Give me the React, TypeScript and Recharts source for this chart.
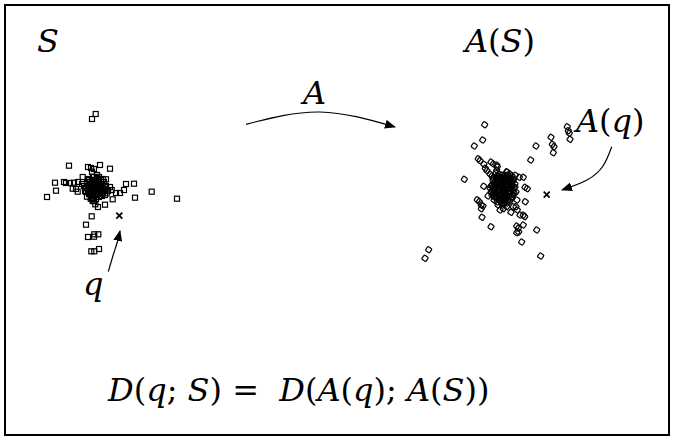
import React from "react";
import { ScatterChart, Scatter, XAxis, YAxis } from "recharts";

// point clouds, in picture units (x right, y down)
const cloudS = [
  { x: 95.7, y: 114 }, { x: 92, y: 119 }, { x: 69, y: 165.7 }, { x: 100, y: 165 },
  { x: 88, y: 167 }, { x: 91, y: 168 }, { x: 94, y: 169 }, { x: 110, y: 168.7 },
  { x: 92, y: 171.7 }, { x: 55, y: 182.7 }, { x: 64, y: 182 }, { x: 66, y: 183 },
  { x: 70, y: 183 }, { x: 74, y: 182.7 }, { x: 78, y: 182 }, { x: 82.7, y: 177 },
  { x: 56, y: 190.7 }, { x: 47, y: 197 }, { x: 72.7, y: 188.7 }, { x: 76, y: 189 },
  { x: 77.7, y: 191.7 }, { x: 126, y: 184 }, { x: 134, y: 183.7 }, { x: 120, y: 193 },
  { x: 116, y: 193 }, { x: 124, y: 190 }, { x: 151.7, y: 191.7 }, { x: 177, y: 198.7 },
  { x: 135, y: 197.7 }, { x: 112.7, y: 199.3 }, { x: 110, y: 187 }, { x: 111.7, y: 190 },
  { x: 106, y: 179.3 }, { x: 106.7, y: 193.3 }, { x: 101.7, y: 193.7 }, { x: 105, y: 204.7 },
  { x: 98, y: 207 }, { x: 95.3, y: 204.3 }, { x: 92.7, y: 201 }, { x: 87, y: 196.7 },
  { x: 90.7, y: 198.7 }, { x: 91.7, y: 216.3 }, { x: 86, y: 224.7 }, { x: 88, y: 237 },
  { x: 94, y: 236.7 }, { x: 98.3, y: 234.3 }, { x: 94.3, y: 234.3 }, { x: 91.3, y: 251.3 },
  { x: 94.3, y: 251.3 }, { x: 99, y: 249 },
  // dense core
  { x: 95, y: 187 }, { x: 93, y: 185 }, { x: 97, y: 189 }, { x: 91, y: 188 },
  { x: 99, y: 186 }, { x: 94, y: 190 }, { x: 96, y: 183 }, { x: 89, y: 186 },
  { x: 101, y: 188 }, { x: 92, y: 192 }, { x: 98, y: 193 }, { x: 95, y: 180 },
  { x: 88, y: 190 }, { x: 102, y: 184 }, { x: 90, y: 182 }, { x: 100, y: 191 },
  { x: 94, y: 195 }, { x: 97, y: 178 }, { x: 86, y: 188 }, { x: 104, y: 189 },
  { x: 91, y: 196 }, { x: 99, y: 197 }, { x: 93, y: 177 }, { x: 87, y: 184 },
  { x: 103, y: 193 }, { x: 96, y: 199 }, { x: 84, y: 186 }, { x: 106, y: 186 },
  { x: 89, y: 194 }, { x: 101, y: 180 }, { x: 92, y: 180 }, { x: 98, y: 182 },
  { x: 85, y: 191 }, { x: 105, y: 195 }, { x: 95, y: 192 }, { x: 90, y: 189 },
  { x: 100, y: 184 }, { x: 93, y: 198 }, { x: 97, y: 175 }, { x: 88, y: 179 },
  { x: 103, y: 179 }, { x: 94, y: 201 }, { x: 82, y: 184 }, { x: 108, y: 191 },
  { x: 96, y: 186 }, { x: 92, y: 187 }, { x: 98, y: 190 }, { x: 91, y: 184 },
  { x: 94, y: 186 }, { x: 96, y: 188 }, { x: 93, y: 189 }, { x: 97, y: 185 },
  { x: 95, y: 184 }, { x: 95, y: 190 }, { x: 92, y: 183 }, { x: 98, y: 187 },
  { x: 90, y: 185 }, { x: 100, y: 189 }, { x: 93, y: 193 }, { x: 97, y: 192 },
  { x: 89, y: 191 }, { x: 101, y: 185 }, { x: 96, y: 181 }, { x: 94, y: 180 },
  { x: 91, y: 190 }, { x: 99, y: 183 }, { x: 102, y: 190 }, { x: 88, y: 187 },
  { x: 96, y: 195 }, { x: 92, y: 195 }, { x: 98, y: 179 }, { x: 90, y: 193 },
  { x: 103, y: 186 }, { x: 87, y: 182 }, { x: 100, y: 194 }, { x: 94, y: 177 },
  { x: 86, y: 192 }, { x: 104, y: 182 }, { x: 89, y: 180 }, { x: 102, y: 196 },
  { x: 99, y: 177 }, { x: 85, y: 188 }, { x: 105, y: 191 }, { x: 92, y: 199 },
];

const cloudAS = [
  { x: 484.7, y: 124.7 }, { x: 474.3, y: 146 }, { x: 482.7, y: 140 }, { x: 536, y: 146 },
  { x: 551, y: 137.3 }, { x: 552.3, y: 144.3 }, { x: 554, y: 146.7 }, { x: 553.3, y: 152.7 },
  { x: 567.3, y: 126.7 }, { x: 568.3, y: 130.7 }, { x: 569.3, y: 133.3 }, { x: 570, y: 139.3 },
  { x: 530.7, y: 160 }, { x: 478.3, y: 158.7 }, { x: 480, y: 160.7 }, { x: 491, y: 162 },
  { x: 493.3, y: 164 }, { x: 496.7, y: 165 }, { x: 484, y: 164.3 }, { x: 485.3, y: 168.3 },
  { x: 487, y: 170.7 }, { x: 490, y: 174 }, { x: 496.7, y: 170 }, { x: 497.3, y: 166.7 },
  { x: 464.3, y: 179.3 }, { x: 483.7, y: 186.3 }, { x: 506.7, y: 171.7 }, { x: 510, y: 174 },
  { x: 515.3, y: 175.3 }, { x: 519.3, y: 177.3 }, { x: 523.3, y: 177.3 }, { x: 525, y: 187.3 },
  { x: 527.3, y: 188.7 }, { x: 525.3, y: 201.7 }, { x: 477.3, y: 199.7 }, { x: 479.3, y: 201.7 },
  { x: 481.3, y: 205 }, { x: 483, y: 206 }, { x: 481.3, y: 208.7 }, { x: 482, y: 217.3 },
  { x: 491, y: 226.7 }, { x: 516, y: 206.7 }, { x: 517.3, y: 210 }, { x: 520, y: 215 },
  { x: 523.3, y: 215 }, { x: 524.7, y: 216.7 }, { x: 516.7, y: 226 }, { x: 518.3, y: 228.3 },
  { x: 516.7, y: 232.7 }, { x: 518.7, y: 232 }, { x: 523.3, y: 225 }, { x: 536.7, y: 230 },
  { x: 521.7, y: 242 }, { x: 540.7, y: 256 }, { x: 428.7, y: 249.7 }, { x: 425, y: 258.3 },
  { x: 500, y: 210 }, { x: 503.3, y: 208.7 }, { x: 506.7, y: 206.7 }, { x: 511, y: 212.3 },
  { x: 513.3, y: 206.7 },
  // dense core
  { x: 503, y: 187 }, { x: 500, y: 184 }, { x: 506, y: 190 }, { x: 498, y: 189 },
  { x: 508, y: 185 }, { x: 502, y: 192 }, { x: 504, y: 181 }, { x: 496, y: 184 },
  { x: 510, y: 191 }, { x: 499, y: 195 }, { x: 507, y: 196 }, { x: 501, y: 178 },
  { x: 494, y: 190 }, { x: 512, y: 182 }, { x: 497, y: 179 }, { x: 509, y: 178 },
  { x: 503, y: 199 }, { x: 495, y: 196 }, { x: 513, y: 195 }, { x: 492, y: 185 },
  { x: 505, y: 175 }, { x: 499, y: 174 }, { x: 514, y: 188 }, { x: 491, y: 192 },
  { x: 500, y: 201 }, { x: 508, y: 201 }, { x: 494, y: 200 }, { x: 511, y: 198 },
  { x: 515, y: 184 }, { x: 493, y: 180 }, { x: 507, y: 172 }, { x: 496, y: 173 },
  { x: 504, y: 204 }, { x: 498, y: 205 }, { x: 516, y: 192 }, { x: 490, y: 188 },
  { x: 505, y: 186 }, { x: 501, y: 188 }, { x: 503, y: 193 }, { x: 506, y: 182 },
  { x: 488, y: 196 }, { x: 517, y: 200 }, { x: 512, y: 176 }, { x: 492, y: 176 },
  { x: 502, y: 185 }, { x: 504, y: 189 }, { x: 500, y: 190 }, { x: 506, y: 187 },
  { x: 499, y: 186 }, { x: 505, y: 193 }, { x: 501, y: 195 }, { x: 507, y: 184 },
  { x: 497, y: 192 }, { x: 509, y: 188 }, { x: 503, y: 183 }, { x: 502, y: 180 },
  { x: 498, y: 182 }, { x: 508, y: 193 }, { x: 504, y: 196 }, { x: 496, y: 188 },
  { x: 511, y: 185 }, { x: 500, y: 198 }, { x: 506, y: 199 }, { x: 495, y: 193 },
  { x: 510, y: 180 }, { x: 499, y: 177 }, { x: 513, y: 191 }, { x: 493, y: 187 },
  { x: 505, y: 178 }, { x: 497, y: 198 }, { x: 509, y: 196 }, { x: 501, y: 202 },
  { x: 514, y: 179 }, { x: 492, y: 195 }, { x: 507, y: 203 }, { x: 496, y: 177 },
  { x: 494, y: 183 }, { x: 498, y: 176 }, { x: 502, y: 175 }, { x: 508, y: 175 },
  { x: 511, y: 178 }, { x: 513, y: 181 }, { x: 515, y: 187 }, { x: 514, y: 193 },
  { x: 512, y: 197 }, { x: 510, y: 201 }, { x: 505, y: 202 }, { x: 502, y: 204 },
  { x: 497, y: 202 }, { x: 494, y: 197 }, { x: 492, y: 192 }, { x: 491, y: 186 },
  { x: 493, y: 178 }, { x: 496, y: 181 }, { x: 499, y: 180 }, { x: 504, y: 178 },
  { x: 507, y: 179 }, { x: 510, y: 183 }, { x: 511, y: 188 }, { x: 509, y: 192 },
  { x: 505, y: 196 }, { x: 501, y: 199 }, { x: 496, y: 196 }, { x: 494, y: 193 },
  { x: 495, y: 187 }, { x: 497, y: 185 }, { x: 500, y: 181 }, { x: 503, y: 179 },
  { x: 508, y: 181 }, { x: 512, y: 186 }, { x: 506, y: 194 }, { x: 499, y: 192 },
];

const queryQ = [{ x: 119.3, y: 215.7 }];
const queryAQ = [{ x: 546.7, y: 194.7 }];

// arrow paths
const arrowA = [{ x: 246, y: 124.3 }, { x: 320, y: 112 }, { x: 395, y: 127 }];
const arrowQ = [{ x: 108.3, y: 271.7 }, { x: 113.5, y: 254 }, { x: 117, y: 243 }, { x: 120, y: 231 }];
const arrowAQ = [{ x: 611.7, y: 146.7 }, { x: 603, y: 166 }, { x: 587, y: 180 }, { x: 562, y: 190 }];

const Square = (p: any) => (
  <rect x={p.cx - 2.5} y={p.cy - 2.5} width={5} height={5} fill="none" stroke="#000" strokeWidth={1.2} />
);
const Diamond = (p: any) => (
  <rect
    x={p.cx - 2.5}
    y={p.cy - 2.5}
    width={5}
    height={5}
    rx={1.2}
    fill="none"
    stroke="#000"
    strokeWidth={1.2}
    transform={`rotate(35 ${p.cx} ${p.cy})`}
  />
);
const Cross = (p: any) => (
  <g stroke="#000" strokeWidth={1.8}>
    <line x1={p.cx - 3} y1={p.cy - 3} x2={p.cx + 3} y2={p.cy + 3} />
    <line x1={p.cx - 3} y1={p.cy + 3} x2={p.cx + 3} y2={p.cy - 3} />
  </g>
);
const Nothing = () => <g />;

const font = "'DejaVu Serif', serif";

export default function App() {
  return (
    <div style={{ position: "fixed", left: 0, top: 0, background: "#fff" }}>
      <ScatterChart width={676} height={442} margin={{ top: 0, right: 0, bottom: 0, left: 0 }}>
        <defs>
          <marker id="ah" markerWidth={11} markerHeight={9} refX={10} refY={4.5} orient="auto" markerUnits="userSpaceOnUse">
            <path d="M0,0 L11,4.5 L0,9 Z" fill="#000" />
          </marker>
        </defs>
        <XAxis type="number" dataKey="x" domain={[0, 676]} hide />
        <YAxis type="number" dataKey="y" domain={[0, 442]} reversed hide />
        <rect x={5} y={5} width={664} height={430} fill="none" stroke="#000" strokeWidth={2} />
        <Scatter data={cloudS} shape={Square} isAnimationActive={false} />
        <Scatter data={cloudAS} shape={Diamond} isAnimationActive={false} />
        <Scatter data={queryQ} shape={Cross} isAnimationActive={false} />
        <Scatter data={queryAQ} shape={Cross} isAnimationActive={false} />
        <Scatter data={arrowA} shape={Nothing} line={{ stroke: "#000", strokeWidth: 1.2, markerEnd: "url(#ah)" }} lineJointType="natural" isAnimationActive={false} />
        <Scatter data={arrowQ} shape={Nothing} line={{ stroke: "#000", strokeWidth: 1.2, markerEnd: "url(#ah)" }} lineJointType="natural" isAnimationActive={false} />
        <Scatter data={arrowAQ} shape={Nothing} line={{ stroke: "#000", strokeWidth: 1.2, markerEnd: "url(#ah)" }} lineJointType="natural" isAnimationActive={false} />
        <g fontFamily={font} fontSize={32} fill="#000">
          <text x={37} y={52} fontStyle="italic">S</text>
          <text x={465} y={52}>
            <tspan fontStyle="italic">A</tspan>(<tspan fontStyle="italic">S</tspan>)
          </text>
          <text x={303} y={104} fontStyle="italic">A</text>
          <text x={576} y={132}>
            <tspan fontStyle="italic">A</tspan>(<tspan fontStyle="italic">q</tspan>)
          </text>
          <text x={83} y={295} fontStyle="italic">q</text>
          <text x={108} y={401} xmlSpace="preserve">
            <tspan fontStyle="italic">D</tspan>(<tspan fontStyle="italic">q</tspan>; <tspan fontStyle="italic">S</tspan>) =  <tspan fontStyle="italic">D</tspan>(<tspan fontStyle="italic">A</tspan>(<tspan fontStyle="italic">q</tspan>); <tspan fontStyle="italic">A</tspan>(<tspan fontStyle="italic">S</tspan>))
          </text>
        </g>
      </ScatterChart>
    </div>
  );
}
